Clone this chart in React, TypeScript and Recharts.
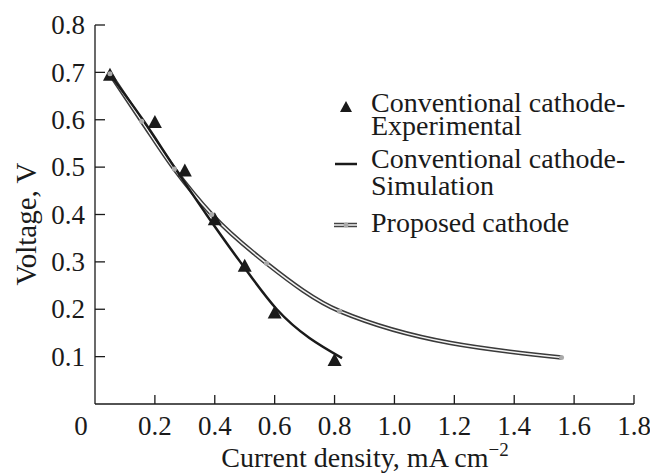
import { ComposedChart, Line, Scatter, XAxis, YAxis, Legend, Label } from 'recharts'

// conventional cathode, measured points (V vs mA cm^-2)
const expCurrent = [0.05, 0.2, 0.3, 0.4, 0.5, 0.6, 0.8]
const expVoltage = [0.695, 0.595, 0.493, 0.39, 0.292, 0.193, 0.093]

// conventional cathode, model curve
const simCurrent = [0.045, 0.16, 0.265, 0.372, 0.485, 0.607, 0.825]
const simVoltage = [0.7, 0.6, 0.5, 0.4, 0.3, 0.2, 0.097]

// proposed cathode
const propCurrent = [0.05, 0.156, 0.265, 0.39, 0.573, 0.817, 1.558]
const propVoltage = [0.697, 0.597, 0.496, 0.4, 0.297, 0.196, 0.098]

const xTicks = [0, 0.2, 0.4, 0.6, 0.8, 1.0, 1.2, 1.4, 1.6, 1.8]
const yTicks = [0.1, 0.2, 0.3, 0.4, 0.5, 0.6, 0.7, 0.8]

const FONT = '"Liberation Serif", "Times New Roman", serif'
const INK = '#1a1a1a'

const toPoints = (xs: number[], ys: number[]) => xs.map((x, i) => ({ x, y: ys[i] }))

const expData = toPoints(expCurrent, expVoltage)
const simData = toPoints(simCurrent, simVoltage)
const propData = toPoints(propCurrent, propVoltage)

// ticks point inwards, so draw them together with the labels
function XTick({ x, y, payload }: any) {
  const v = payload.value as number
  return (
    <g>
      {v !== 0 && <line x1={x} y1={y} x2={x} y2={y - 9} stroke={INK} strokeWidth={1.3} />}
      <text x={v === 0 ? x - 14 : x} y={y + 31} textAnchor="middle" fontFamily={FONT} fontSize={27} fill={INK}>
        {v === 0 ? '0' : v.toFixed(1)}
      </text>
    </g>
  )
}

function YTick({ x, y, payload }: any) {
  return (
    <g>
      <line x1={x} y1={y} x2={x + 10} y2={y} stroke={INK} strokeWidth={1.3} />
      <text x={x - 10} y={y} dy="0.34em" textAnchor="end" fontFamily={FONT} fontSize={27} fill={INK}>
        {payload.value.toFixed(1)}
      </text>
    </g>
  )
}

function Triangle({ cx, cy }: any) {
  return <path d={`M${cx},${cy - 7} L${cx + 7},${cy + 6} L${cx - 7},${cy + 6} Z`} fill={INK} />
}

function LegendBox() {
  const t = { fontFamily: FONT, fontSize: 28, fill: INK }
  return (
    <svg width={650} height={260} style={{ display: 'block' }}>
      <path d="M346,101 L352,112 L340,112 Z" fill={INK} />
      <text x={371} y={112} {...t}>
        Conventional cathode-
        <tspan x={371} dy={23}>Experimental</tspan>
      </text>
      <line x1={335} y1={164} x2={357} y2={164} stroke={INK} strokeWidth={2.5} />
      <text x={371} y={168} {...t}>
        Conventional cathode-
        <tspan x={371} dy={27}>Simulation</tspan>
      </text>
      <line x1={334} y1={225} x2={357} y2={225} stroke="#444" strokeWidth={4.5} />
      <line x1={334} y1={225} x2={357} y2={225} stroke="#f4f4f4" strokeWidth={1.5} />
      <circle cx={346} cy={225} r={2.5} fill="#aaa" />
      <text x={371} y={232} {...t}>Proposed cathode</text>
    </svg>
  )
}

export default function App() {
  return (
    <div style={{ position: 'absolute', left: 0, top: 0, background: '#fff' }}>
      <ComposedChart width={650} height={473} margin={{ top: 25, right: 16, bottom: 0, left: 0 }}>
        <XAxis
          type="number"
          dataKey="x"
          domain={[0, 1.8]}
          ticks={xTicks}
          height={69}
          tickSize={0}
          tickMargin={0}
          tickLine={false}
          tick={<XTick />}
          axisLine={{ stroke: INK, strokeWidth: 1.3 }}
          allowDataOverflow
        >
          <Label
            content={() => (
              <text x={365} y={467} textAnchor="middle" fontFamily={FONT} fontSize={28} fill={INK}>
                Current density, mA cm
                <tspan dy={-11} fontSize={19}>−2</tspan>
              </text>
            )}
          />
        </XAxis>
        <YAxis
          type="number"
          dataKey="y"
          domain={[0, 0.8]}
          ticks={yTicks}
          width={95}
          tickSize={0}
          tickMargin={0}
          tickLine={false}
          tick={<YTick />}
          axisLine={{ stroke: INK, strokeWidth: 1.3 }}
          allowDataOverflow
        >
          <Label
            content={() => (
              <text
                x={36}
                y={224}
                transform="rotate(-90 36 224)"
                textAnchor="middle"
                fontFamily={FONT}
                fontSize={29}
                fill={INK}
              >
                Voltage, V
              </text>
            )}
          />
        </YAxis>
        <Legend
          layout="horizontal"
          verticalAlign="middle"
          align="center"
          wrapperStyle={{ left: 0, top: 0, width: 650 }}
          content={() => <LegendBox />}
        />
        {/* proposed cathode: double-stroked line */}
        <Line
          data={propData}
          dataKey="y"
          type="monotone"
          stroke="#3a3a3a"
          strokeWidth={4.5}
          dot={false}
          isAnimationActive={false}
          legendType="none"
        />
        <Line
          data={propData}
          dataKey="y"
          type="monotone"
          stroke="#f4f4f4"
          strokeWidth={1.5}
          dot={{ r: 2.5, fill: '#aaa', stroke: 'none' }}
          isAnimationActive={false}
          legendType="none"
        />
        <Line
          data={simData}
          dataKey="y"
          type="monotone"
          stroke={INK}
          strokeWidth={2.5}
          dot={false}
          isAnimationActive={false}
        />
        <Scatter data={expData} dataKey="y" shape={<Triangle />} isAnimationActive={false} />
      </ComposedChart>
    </div>
  )
}
